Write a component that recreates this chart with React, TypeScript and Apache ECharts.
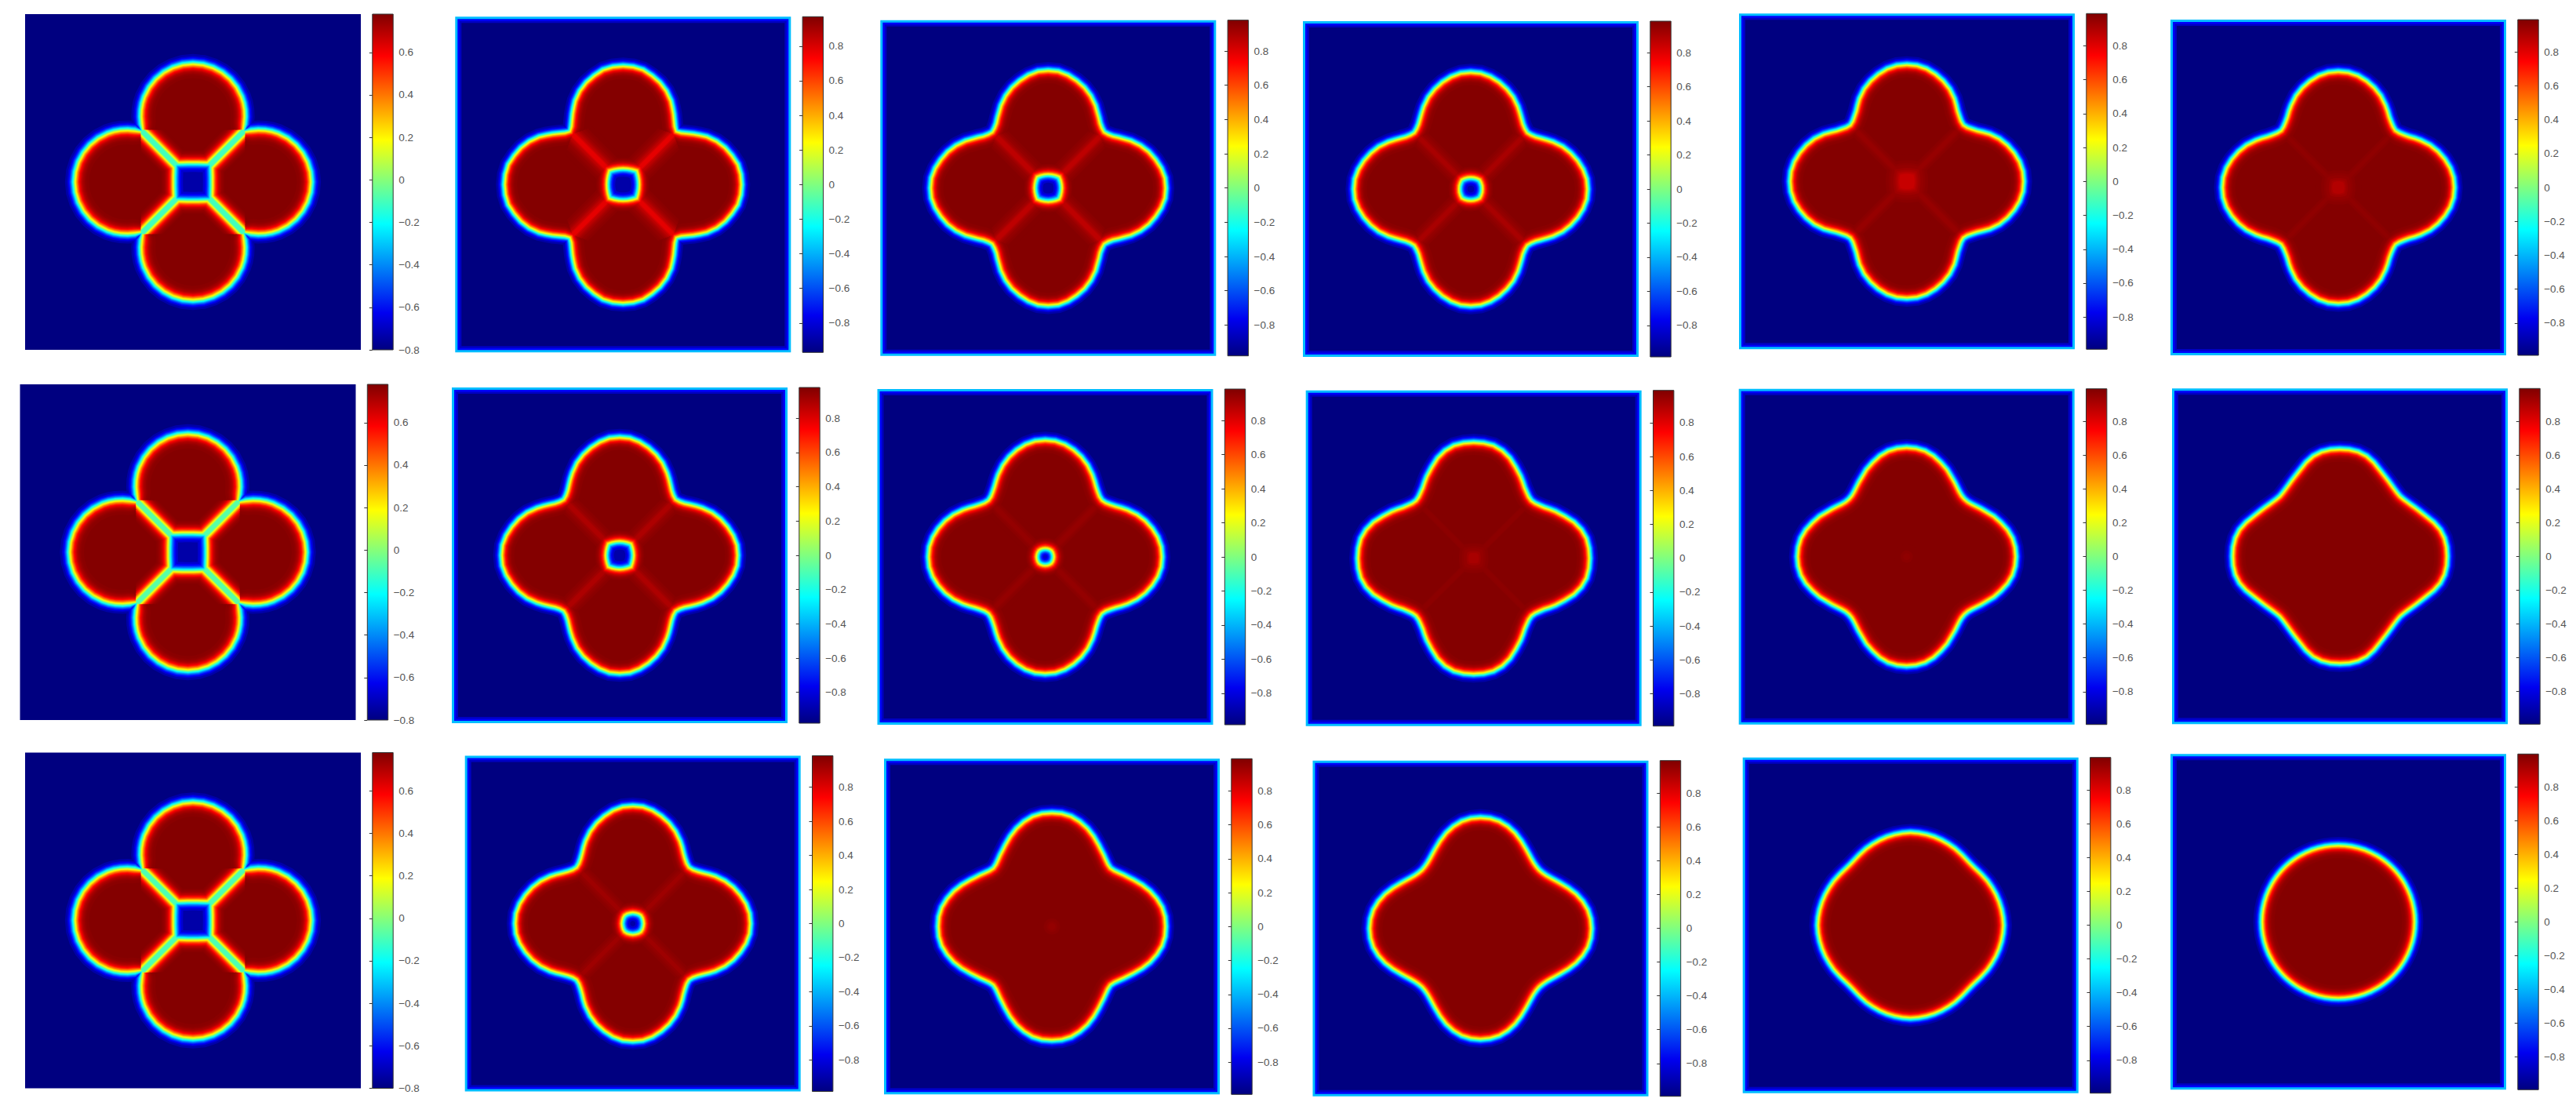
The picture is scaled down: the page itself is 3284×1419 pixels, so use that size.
import React, { useEffect, useRef } from "react";
import * as echarts from "echarts";

const ANGLES = [0, 5, 10, 15, 20, 25, 30, 33, 36, 39, 42, 45];
const HOLE_ANGLES = [0, 15, 30, 45];
const TICKS = [-0.8, -0.6, -0.4, -0.2, 0, 0.2, 0.4, 0.6, 0.8];
const TICKS_FIRST = [-0.8, -0.6, -0.4, -0.2, 0, 0.2, 0.4, 0.6];

const discs = [0.71, 0.7066, 0.6964, 0.6794, 0.6557, 0.6251, 0.5875, 0.5614, 0.5324, 0.5004, 0.4648, 0.4249];
const o12 = [0.711, 0.708, 0.698, 0.675, 0.65, 0.618, 0.578, 0.548, 0.52, 0.492, 0.468, 0.453];
const o13 = [0.705, 0.702, 0.687, 0.665, 0.64, 0.608, 0.57, 0.543, 0.52, 0.498, 0.484, 0.476];
const o14 = [0.7, 0.697, 0.683, 0.662, 0.636, 0.606, 0.568, 0.543, 0.52, 0.5, 0.487, 0.48];
const o15 = [0.7, 0.697, 0.685, 0.665, 0.64, 0.61, 0.572, 0.545, 0.52, 0.502, 0.487, 0.48];
const o16 = [0.695, 0.692, 0.68, 0.66, 0.635, 0.605, 0.568, 0.545, 0.522, 0.505, 0.492, 0.485];
const o22 = [0.708, 0.705, 0.69, 0.668, 0.642, 0.61, 0.57, 0.545, 0.52, 0.498, 0.483, 0.475];
const o23 = [0.7, 0.697, 0.684, 0.663, 0.637, 0.605, 0.567, 0.543, 0.52, 0.502, 0.488, 0.482];
const o24 = [0.695, 0.693, 0.686, 0.667, 0.638, 0.6, 0.565, 0.543, 0.522, 0.507, 0.495, 0.49];
const o25 = [0.655, 0.652, 0.643, 0.625, 0.6, 0.575, 0.545, 0.53, 0.515, 0.502, 0.493, 0.49];
const o26 = [0.643, 0.642, 0.636, 0.622, 0.598, 0.57, 0.548, 0.537, 0.527, 0.519, 0.513, 0.51];
const o32 = [0.705, 0.702, 0.688, 0.666, 0.64, 0.608, 0.57, 0.545, 0.52, 0.5, 0.485, 0.478];
const o33 = [0.682, 0.68, 0.67, 0.65, 0.625, 0.595, 0.563, 0.545, 0.53, 0.515, 0.503, 0.497];
const o34 = [0.665, 0.662, 0.652, 0.633, 0.608, 0.578, 0.548, 0.532, 0.518, 0.507, 0.5, 0.497];
const o35 = [0.558, 0.556, 0.553, 0.549, 0.544, 0.538, 0.532, 0.527, 0.523, 0.519, 0.516, 0.515];
const o36 = [0.46, 0.46, 0.46, 0.46, 0.46, 0.46, 0.46, 0.46, 0.46, 0.46, 0.46, 0.46];

const OUTER = [
  [discs, o12, o13, o14, o15, o16],
  [discs, o22, o23, o24, o25, o26],
  [discs, o32, o33, o34, o35, o36],
];

// central hole (radii at HOLE_ANGLES) and the lowest colour position it reaches
const squareHole = [0.112, 0.116, 0.128, 0.155];
const HOLES = [
  [squareHole, [0.093, 0.095, 0.101, 0.112], [0.078, 0.079, 0.083, 0.09], [0.066, 0.067, 0.069, 0.073], [0.045, 0.046, 0.049, 0.055], [0.035, 0.036, 0.038, 0.042]],
  [squareHole, [0.08, 0.081, 0.085, 0.093], [0.048, 0.048, 0.049, 0.05], [0.03, 0.031, 0.033, 0.036], [0.02, 0.02, 0.02, 0.02], [0, 0, 0, 0]],
  [squareHole, [0.062, 0.062, 0.064, 0.066], [0.02, 0.02, 0.02, 0.02], [0, 0, 0, 0], [0, 0, 0, 0], [0, 0, 0, 0]],
];
const HOLE_FLOOR = [
  [0, 0, 0, 0, 0.93, 0.95],
  [0, 0, 0, 0.96, 0.985, 1],
  [0, 0, 0.98, 1, 1, 1],
];
// lowest colour position along the seams between the four lobes
const SEAM_FLOOR = [
  [0.44, 0.9, 0.94, 0.96, 0.978, 0.985],
  [0.46, 0.955, 0.98, 0.988, 1, 1],
  [0.45, 0.97, 1, 1, 1, 1],
];
const RANGES = [
  [[-0.8, 0.78], [-0.97, 0.97], [-0.98, 0.98], [-0.985, 0.985], [-0.99, 0.99], [-0.99, 0.99]],
  [[-0.8, 0.78], [-0.98, 0.98], [-0.985, 0.985], [-0.99, 0.99], [-0.995, 0.995], [-0.995, 0.995]],
  [[-0.8, 0.78], [-0.985, 0.985], [-0.99, 0.99], [-0.995, 0.995], [-0.995, 0.995], [-0.995, 0.995]],
];

// ---- layout ----
const PANEL_X = [
  [32, 580.3, 1122.3, 1661, 2217, 2767],
  [25.5, 576, 1118.5, 1664.7, 2216.7, 2769],
  [32, 592.7, 1127, 1673.5, 2221.7, 2767],
];
const PANEL_Y = [
  [18, 21.3, 25.7, 27, 17.3, 25],
  [490, 494, 496, 497.7, 495.7, 495.3],
  [959.5, 963.5, 967.3, 969.7, 965.7, 961.3],
];
const PANEL_W = 428;
const BAR_GAP = 442.8;
const BAR_W = 26.4;
const RIM = [[0, 0.31], [3, 0.12], [5.5, 0.065], [8, 0]];
const W_FIRST = 0.033;
const W_REST = 0.029;
const SEAM_CORE = 0.012;
const SOFT = 2.2;
const PATCH_SOFT = 2.8;

const LEVELS = [
  0.04, 0.08, 0.12, 0.16, 0.2, 0.24, 0.28, 0.32, 0.36, 0.4, 0.44, 0.48, 0.52, 0.56, 0.6, 0.64, 0.68, 0.72, 0.76, 0.8, 0.84,
  0.86, 0.88, 0.9, 0.92, 0.94, 0.95, 0.96, 0.97, 0.98, 0.985, 0.99, 0.996,
];

function jet(t: number) {
  const c = (v: number) => Math.round(255 * Math.max(0, Math.min(1, v)));
  return `rgb(${c(1.5 - Math.abs(4 * t - 3))},${c(1.5 - Math.abs(4 * t - 2))},${c(1.5 - Math.abs(4 * t - 1))})`;
}
const atanh = (x: number) => 0.5 * Math.log((1 + x) / (1 - x));

// expand one octant of radii to the whole closed contour
function contour(angles: number[], radii: number[]) {
  const pts: number[][] = [];
  for (let q = 0; q < 4; q++) {
    const base = (q * Math.PI) / 2;
    for (let i = 0; i < angles.length - 1; i++) {
      const a = (angles[i] * Math.PI) / 180 + base;
      pts.push([radii[i] * Math.sin(a), radii[i] * Math.cos(a)]);
    }
    for (let i = angles.length - 1; i > 0; i--) {
      const a = ((90 - angles[i]) * Math.PI) / 180 + base;
      pts.push([radii[i] * Math.sin(a), radii[i] * Math.cos(a)]);
    }
  }
  return pts;
}

function offsetInward(pts: number[][], d: number) {
  const n = pts.length;
  return pts.map((p, i) => {
    const a = pts[(i - 1 + n) % n];
    const b = pts[(i + 1) % n];
    const tx = b[0] - a[0];
    const ty = b[1] - a[1];
    const len = Math.hypot(tx, ty) || 1;
    const nx = -ty / len;
    const ny = tx / len;
    return [p[0] - nx * d, p[1] - ny * d];
  });
}

type Layer =
  | { kind: "poly"; t: number; pts: number[][] }
  | { kind: "line"; t: number; pts: number[][]; width: number };

function buildLayers(r: number, c: number) {
  const layers: Layer[] = [];
  const inset = (px: number) => 1 - (2 * px) / PANEL_W;
  const rim = c === 0 ? [[0, 0]] : RIM;
  rim.forEach(([px, t]) => {
    const k = inset(px);
    layers.push({ kind: "poly", t, pts: [[-k, -k], [k, -k], [k, k], [-k, k]] });
  });
  const w = c === 0 ? W_FIRST : W_REST;
  const dOf = (t: number) => w * atanh(2 * t - 1);
  const outer = contour(ANGLES, OUTER[r][c]);
  const neck = OUTER[r][c][ANGLES.length - 1];
  LEVELS.forEach((t) => layers.push({ kind: "poly", t, pts: offsetInward(outer, dOf(t)) }));

  // seams and hole are painted together from high to low, so the lower value wins
  const dips: Layer[] = [];
  const sf = SEAM_FLOOR[r][c];
  if (sf < 1) {
    const soft = sf > 0.8 ? SOFT : 1;
    const ls = LEVELS.filter((t) => t >= sf).concat([sf]);
    ls.forEach((t) => {
      const half = SEAM_CORE + (dOf(t) - dOf(sf)) * soft;
      const end = neck - dOf(t);
      [45, 135, 225, 315].forEach((deg) => {
        const a = (deg * Math.PI) / 180;
        dips.push({ kind: "line", t, width: half * 2, pts: [[0, 0], [end * Math.sin(a), end * Math.cos(a)]] });
      });
    });
  }
  const hole = HOLES[r][c];
  if (hole[0] > 0) {
    const unit = hole.map((v) => v / hole[0]);
    const base = contour(HOLE_ANGLES, unit);
    const floor = HOLE_FLOOR[r][c];
    const ls = floor > 0 ? LEVELS.filter((t) => t >= floor).concat([floor]) : LEVELS;
    ls.forEach((t) => {
      const size = floor > 0 ? hole[0] + (dOf(t) - dOf(floor)) * PATCH_SOFT : hole[0] + dOf(t);
      if (size <= 0) return;
      dips.push({ kind: "poly", t, pts: base.map((p) => [p[0] * size, p[1] * size]) });
    });
  }
  dips.sort((a, b) => b.t - a.t);
  return layers.concat(dips);
}

function buildOption() {
  const grid: any[] = [];
  const xAxis: any[] = [];
  const yAxis: any[] = [];
  const series: any[] = [];
  const stops = [0, 0.11, 0.375, 0.625, 0.875, 1].map((offset) => ({ offset, color: jet(offset) }));
  const fmt = (v: number) => (v === 0 ? "0" : (v < 0 ? "\u2212" : "") + Math.abs(v).toFixed(1));

  for (let r = 0; r < 3; r++) {
    for (let c = 0; c < 6; c++) {
      const layers = buildLayers(r, c);
      const px = PANEL_X[r][c];
      const py = PANEL_Y[r][c];
      let idx = grid.length;
      grid.push({ left: px, top: py, width: PANEL_W, height: PANEL_W });
      xAxis.push({ type: "value", gridIndex: idx, min: -1, max: 1, show: false });
      yAxis.push({ type: "value", gridIndex: idx, min: -1, max: 1, show: false });
      series.push({
        type: "custom",
        xAxisIndex: idx,
        yAxisIndex: idx,
        silent: true,
        clip: false,
        data: layers.map((l) => [l.t]),
        renderItem: (params: any, api: any) => {
          const l = layers[params.dataIndex];
          const points = l.pts.map((p) => api.coord(p));
          if (l.kind === "poly") {
            return { type: "polygon", shape: { points }, style: { fill: jet(l.t), stroke: null } };
          }
          return {
            type: "polyline",
            shape: { points },
            style: { stroke: jet(l.t), fill: null, lineWidth: (l.width * PANEL_W) / 2, lineCap: "butt" },
          };
        },
      });

      const [vmin, vmax] = RANGES[r][c];
      const ticks = c === 0 ? TICKS_FIRST : TICKS;
      idx = grid.length;
      grid.push({ left: px + BAR_GAP, top: py, width: BAR_W, height: PANEL_W });
      xAxis.push({ type: "value", gridIndex: idx, min: 0, max: 1, show: false });
      yAxis.push({
        type: "value",
        gridIndex: idx,
        min: vmin,
        max: vmax,
        position: "right",
        z: 5,
        splitLine: { show: false },
        axisLine: { show: false },
        axisTick: { show: true, inside: true, length: 4, customValues: ticks, lineStyle: { color: "#333", width: 1 } },
        axisLabel: {
          show: true,
          customValues: ticks,
          margin: 7,
          fontFamily: "Liberation Sans",
          fontSize: 13.5,
          color: "#555",
          formatter: fmt,
        },
      });
      series.push({
        type: "custom",
        xAxisIndex: idx,
        yAxisIndex: idx,
        silent: true,
        data: [[vmin, vmax]],
        renderItem: (_: any, api: any) => {
          const a = api.coord([0, api.value(1)]);
          const b = api.coord([1, api.value(0)]);
          return {
            type: "rect",
            shape: { x: a[0], y: a[1], width: b[0] - a[0], height: b[1] - a[1] },
            style: {
              fill: new echarts.graphic.LinearGradient(0, 1, 0, 0, stops),
              stroke: "#333",
              lineWidth: 1,
            },
          };
        },
      });
    }
  }
  return { animation: false, backgroundColor: "#fff", grid, xAxis, yAxis, series };
}

export default function App() {
  const ref = useRef<HTMLDivElement>(null);
  useEffect(() => {
    document.body.style.margin = "0";
    const chart = echarts.init(ref.current!, undefined, { renderer: "svg" });
    chart.setOption(buildOption() as any);
    return () => chart.dispose();
  }, []);
  return <div ref={ref} style={{ width: 3284, height: 1419 }} />;
}
